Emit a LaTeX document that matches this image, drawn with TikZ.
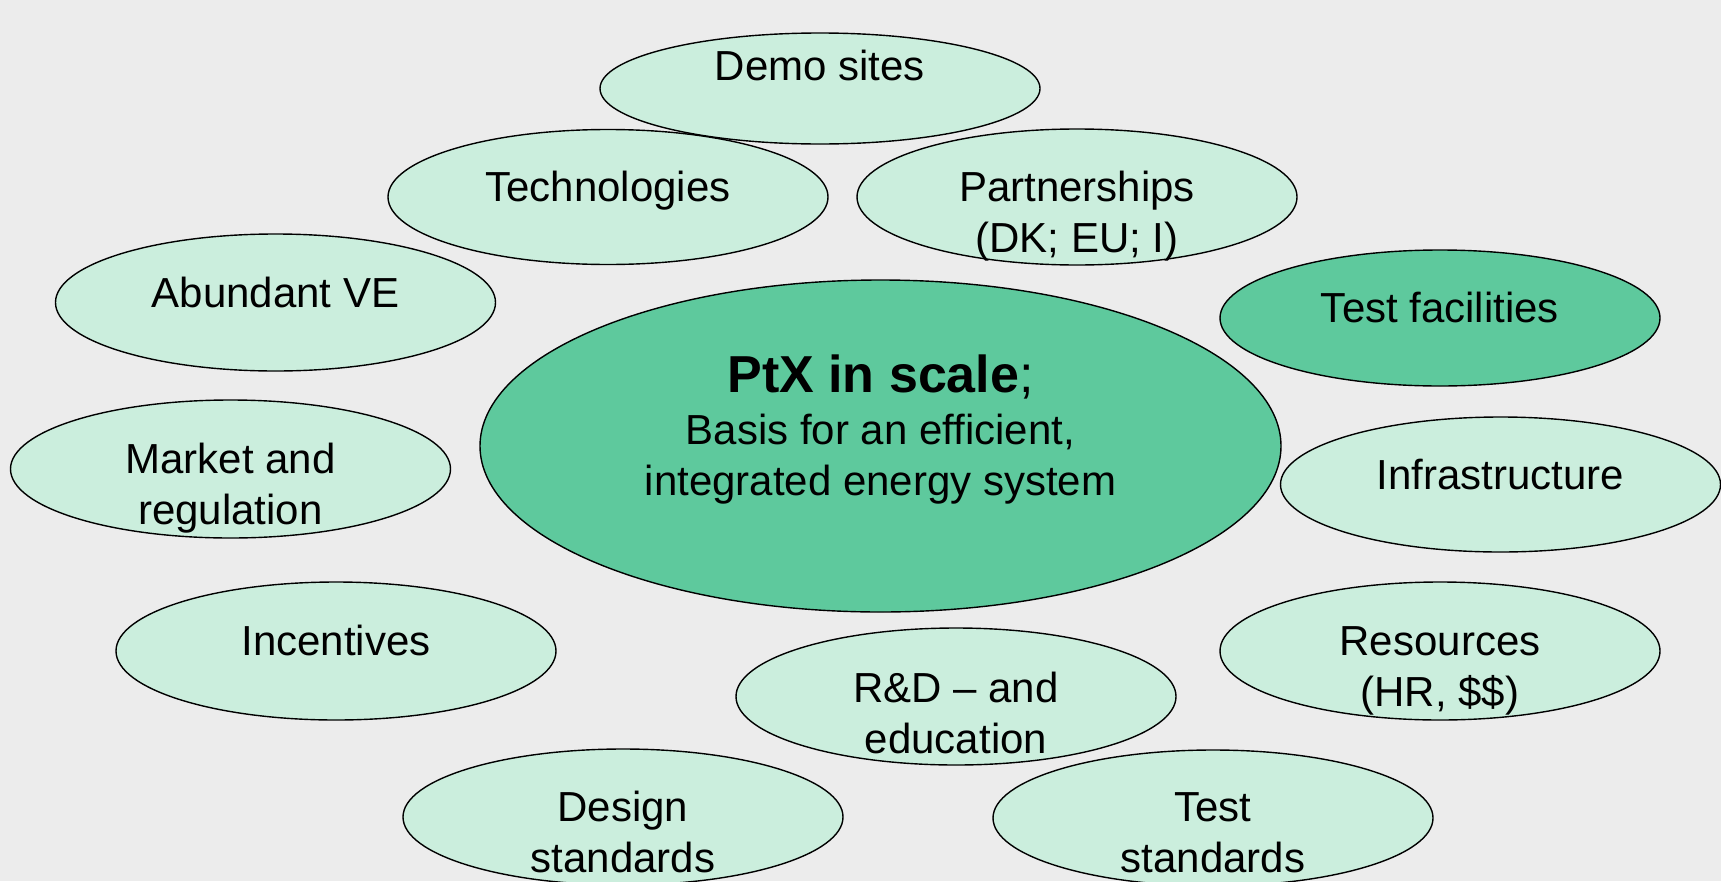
\documentclass[tikz,border=0pt]{standalone}
\usepackage{fontspec}
\setmainfont{Liberation Sans}
\usetikzlibrary{shapes.geometric}
\definecolor{bgcol}{RGB}{236,236,236}
\definecolor{mint}{RGB}{203,238,221}
\definecolor{jade}{RGB}{94,201,157}
% centred lines whose baseline is the first line's baseline
\newcommand\stacktwo[2]{\vtop{\halign{\hfil##\hfil\cr #1\cr #2\cr}}}
\begin{document}
\begin{tikzpicture}[x=1pt,y=-1pt,
  bubble/.style={ellipse, draw=black, line width=1.4pt, fill=mint,
    minimum width=440pt, minimum height=136pt, inner sep=0pt},
  hub/.style={bubble, fill=jade},
  caption/.style={anchor=base, inner sep=0pt, font=\fontsize{42}{51}\selectfont}]
\fill[bgcol] (0,0) rectangle (1721,881);
\useasboundingbox (0,0) rectangle (1721,881);
\clip (0,0) rectangle (1721,881);

% outer bubbles
\node[bubble, minimum height=111pt] (demo) at (820,88.5) {};
\node[bubble, minimum height=135pt] (tech) at (608,197) {};
\node[bubble] (partner) at (1077,197) {};
\node[bubble, minimum height=137pt] (abundant) at (275.5,302.5) {};
\node[hub] (testfac) at (1440,318) {};
\node[bubble, minimum height=138pt] (market) at (230.5,469) {};
\node[bubble, minimum height=135pt] (infra) at (1500.5,484.5) {};
\node[bubble, minimum height=138pt] (incent) at (336,651) {};
\node[bubble, minimum height=138pt] (resour) at (1440,651) {};
\node[bubble, minimum height=137pt] (rnd) at (956,696.5) {};
\node[bubble] (design) at (623,817) {};
\node[bubble] (teststd) at (1213,818) {};
% central bubble
\node[hub, minimum width=801pt, minimum height=332pt] (ptx) at (880.5,446) {};

% captions
\node[caption] (demo-t) at (820,80) {Demo sites};
\node[caption] (tech-t) at (608,201) {Technologies};
\node[caption] (partner-t) at (1077,201) {\stacktwo{Partnerships}{(DK; EU; I)}};
\node[caption] (abundant-t) at (275.5,307) {Abundant VE};
\node[caption] (testfac-t) at (1440,322) {Test facilities};
\node[caption] (market-t) at (230.5,473) {\stacktwo{Market and}{regulation}};
\node[caption] (infra-t) at (1500.5,489) {Infrastructure};
\node[caption] (incent-t) at (336,655) {Incentives};
\node[caption] (resour-t) at (1440,655) {\stacktwo{Resources}{(HR, \$\$)}};
\node[caption] (rnd-t) at (956,702) {\stacktwo{R\&D – and}{education}};
\node[caption] (design-t) at (623,821) {\stacktwo{Design}{standards}};
\node[caption] (teststd-t) at (1213,821) {\stacktwo{Test}{standards}};
\node[caption] (ptx-t) at (880.5,392)
  {\vtop{\baselineskip=52pt\halign{\hfil#\hfil\cr
    {\fontsize{52}{56}\selectfont{\bfseries PtX in scale};}\cr
    Basis for an efficient,\cr
    \noalign{\vskip-1pt}
    integrated energy system\cr}}};
\end{tikzpicture}
\end{document}
